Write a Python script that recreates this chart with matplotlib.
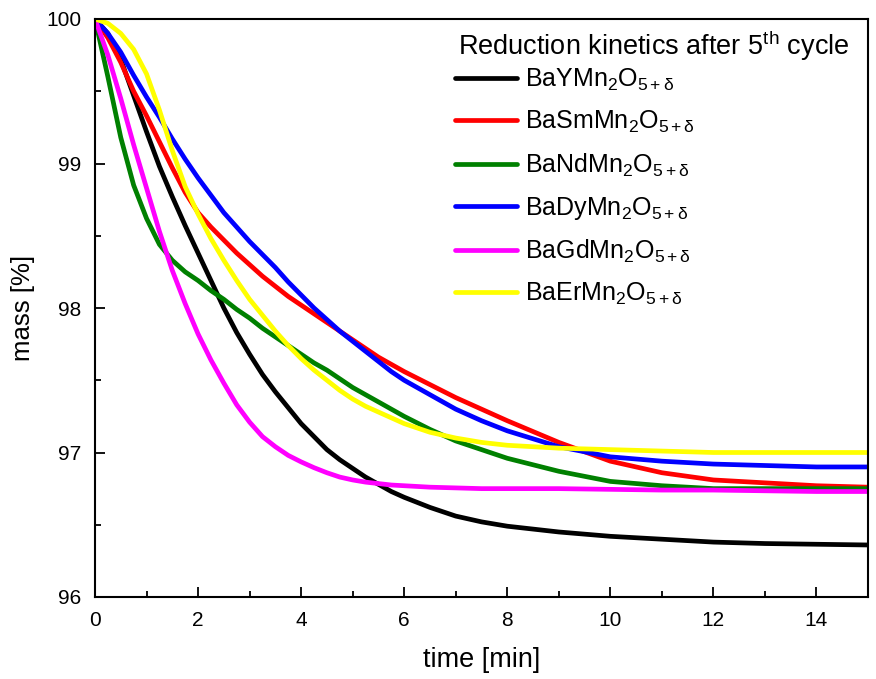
import matplotlib
matplotlib.use("Agg")
import matplotlib.pyplot as plt
from matplotlib.ticker import MultipleLocator

plt.rcParams['font.family'] = ['Liberation Sans', 'DejaVu Sans']
plt.rcParams['mathtext.fontset'] = 'custom'
plt.rcParams['mathtext.rm'] = 'Liberation Sans'
plt.rcParams['mathtext.it'] = 'Liberation Sans:italic'
plt.rcParams['mathtext.bf'] = 'Liberation Sans:bold'

time = [0, 0.25, 0.5, 0.75, 1, 1.25, 1.5, 1.75, 2, 2.25, 2.5, 2.75, 3, 3.25, 3.5, 3.75,
        4, 4.25, 4.5, 4.75, 5, 5.25, 5.5, 5.75, 6, 6.5, 7, 7.5, 8, 9, 10, 11, 12, 13, 14, 15]

mass_Y = [100, 99.9, 99.72, 99.47, 99.22, 98.98, 98.77, 98.57, 98.38, 98.19, 98.0, 97.83,
          97.68, 97.54, 97.42, 97.31, 97.2, 97.11, 97.02, 96.95, 96.89, 96.83, 96.78, 96.73,
          96.69, 96.62, 96.56, 96.52, 96.49, 96.45, 96.42, 96.40, 96.38, 96.37, 96.365, 96.36]
mass_Sm = [100, 99.87, 99.7, 99.5, 99.33, 99.15, 98.97, 98.8, 98.66, 98.56, 98.47, 98.38,
           98.3, 98.22, 98.15, 98.08, 98.02, 97.96, 97.9, 97.84, 97.78, 97.72, 97.66, 97.61,
           97.56, 97.47, 97.38, 97.3, 97.22, 97.07, 96.94, 96.86, 96.81, 96.79, 96.77, 96.76]
mass_Nd = [100, 99.6, 99.18, 98.85, 98.62, 98.44, 98.33, 98.25, 98.19, 98.12, 98.06, 97.99,
           97.93, 97.86, 97.8, 97.74, 97.68, 97.62, 97.57, 97.51, 97.45, 97.4, 97.35, 97.3,
           97.25, 97.16, 97.08, 97.02, 96.96, 96.87, 96.8, 96.77, 96.75, 96.75, 96.75, 96.75]
mass_Dy = [100, 99.9, 99.77, 99.61, 99.46, 99.32, 99.17, 99.03, 98.9, 98.78, 98.66, 98.56,
           98.46, 98.37, 98.28, 98.18, 98.09, 98.0, 97.92, 97.84, 97.77, 97.7, 97.63, 97.56,
           97.5, 97.4, 97.3, 97.22, 97.15, 97.04, 96.97, 96.94, 96.92, 96.91, 96.9, 96.9]
mass_Gd = [100, 99.75, 99.45, 99.13, 98.83, 98.53, 98.26, 98.03, 97.82, 97.64, 97.48, 97.33,
           97.21, 97.11, 97.04, 96.98, 96.935, 96.895, 96.86, 96.83, 96.81, 96.795, 96.785,
           96.775, 96.77, 96.76, 96.755, 96.75, 96.75, 96.75, 96.745, 96.74, 96.74, 96.735,
           96.73, 96.73]
mass_Er = [100, 99.97, 99.9, 99.79, 99.62, 99.37, 99.09, 98.84, 98.65, 98.48, 98.33, 98.19,
           98.06, 97.95, 97.84, 97.74, 97.65, 97.57, 97.5, 97.43, 97.37, 97.32, 97.28, 97.24,
           97.2, 97.14, 97.1, 97.07, 97.05, 97.03, 97.02, 97.01, 97.0, 97.0, 97.0, 97.0]

legend_title = r'Reduction kinetics after 5$^{\mathrm{th}}$ cycle'
series = [
    (r'BaYMn$_{\mathrm{2}}$O$_{\mathrm{5+\delta}}$', mass_Y, '#000000'),
    (r'BaSmMn$_{\mathrm{2}}$O$_{\mathrm{5+\delta}}$', mass_Sm, '#ff0000'),
    (r'BaNdMn$_{\mathrm{2}}$O$_{\mathrm{5+\delta}}$', mass_Nd, '#008000'),
    (r'BaDyMn$_{\mathrm{2}}$O$_{\mathrm{5+\delta}}$', mass_Dy, '#0000ff'),
    (r'BaGdMn$_{\mathrm{2}}$O$_{\mathrm{5+\delta}}$', mass_Gd, '#ff00ff'),
    (r'BaErMn$_{\mathrm{2}}$O$_{\mathrm{5+\delta}}$', mass_Er, '#ffff00'),
]

fig = plt.figure(figsize=(8.76, 6.79), dpi=100)
ax = fig.add_axes([95/876, 1-597/679, (868-95)/876, (597-19)/679])

for label, m, c in series:
    ax.plot(time, m, color=c, lw=3.4, label=label, solid_capstyle='round',
            solid_joinstyle='round')

ax.set_xlim(0, 15)
ax.set_ylim(96, 100)
ax.xaxis.set_major_locator(MultipleLocator(2))
ax.xaxis.set_minor_locator(MultipleLocator(1))
ax.yaxis.set_major_locator(MultipleLocator(1))
ax.yaxis.set_minor_locator(MultipleLocator(0.5))
ax.tick_params(which='both', direction='in', top=False, right=False, width=1.3)
ax.tick_params(which='major', length=7, labelsize=15, pad=10)
ax.tick_params(which='minor', length=4)
for s in ax.spines.values():
    s.set_linewidth(1.5)

ax.set_xlabel('time [min]', fontsize=19.5, labelpad=12)
ax.set_ylabel('mass [%]', fontsize=18.5, labelpad=8)

ax.text(0.4695, 0.953, legend_title, transform=ax.transAxes, fontsize=19.5,
        ha='left', va='center')
leg = ax.legend(loc='upper left', bbox_to_anchor=(0.4657, 0.917), frameon=False,
                fontsize=18, handlelength=2.5, handletextpad=0.32,
                labelspacing=0.64, borderpad=0, borderaxespad=0)

fig.savefig('out.png', dpi=100)
